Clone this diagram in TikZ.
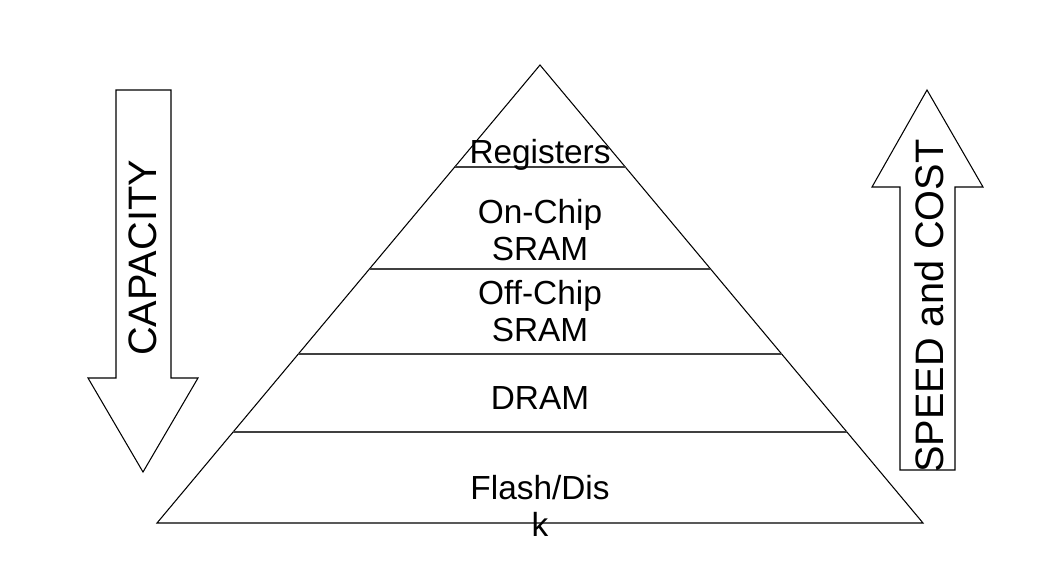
\documentclass[tikz,border=0pt]{standalone}
\usepackage{fontspec}
\setmainfont{Liberation Sans}
\usetikzlibrary{positioning,calc}

\begin{document}
\begin{tikzpicture}[
  x=0.02cm, y=-0.02cm,
  outline/.style={draw=black, line width=0.6pt, line join=miter},
  level/.style={draw=black!75, line width=0.8pt},
  tier/.style={font=\fontsize{19}{22}\selectfont, align=center, inner sep=0pt},
  arrowtext/.style={font=\fontsize{22.6}{26}\selectfont, rotate=90, inner sep=0pt},
]
\useasboundingbox (0,0) rectangle (1050,586);

% pyramid
\coordinate (apex)  at (540,65);
\coordinate (baseL) at (157,523);
\coordinate (baseR) at (923,523);
\draw[outline] (baseL) -- (apex) -- (baseR) -- cycle;

% level lines
\draw[level] (455,167) -- (626,167);
\draw[level] (370,269) -- (710,269);
\draw[level] (298,354) -- (782,354);
\draw[level] (233,432) -- (847,432);

% tier labels
\node[tier] (regs)  at (540,155) {Registers};
\node[tier] (onchip)  at (540,230) {On-Chip\\[-1pt]SRAM};
\node[tier] (offchip) at (540,311) {Off-Chip\\[-1pt]SRAM};
\node[tier] (dram)  at (540,398) {DRAM};
\node[tier] (flash) at (540,506) {Flash/Dis\\[-1pt]k};

% capacity arrow (down)
\draw[outline] (116,90) -- (171,90) -- (171,378) -- (198,378) -- (143,472)
  -- (88,378) -- (116,378) -- cycle;
\node[arrowtext] (cap) at (143,258) {CAPACITY};

% speed and cost arrow (up)
\draw[outline] (900,470) -- (955,470) -- (955,187) -- (983,187) -- (927,90)
  -- (872,187) -- (900,187) -- cycle;
\node[arrowtext] (speed) at (929,306) {SPEED and COST};

\end{tikzpicture}
\end{document}
